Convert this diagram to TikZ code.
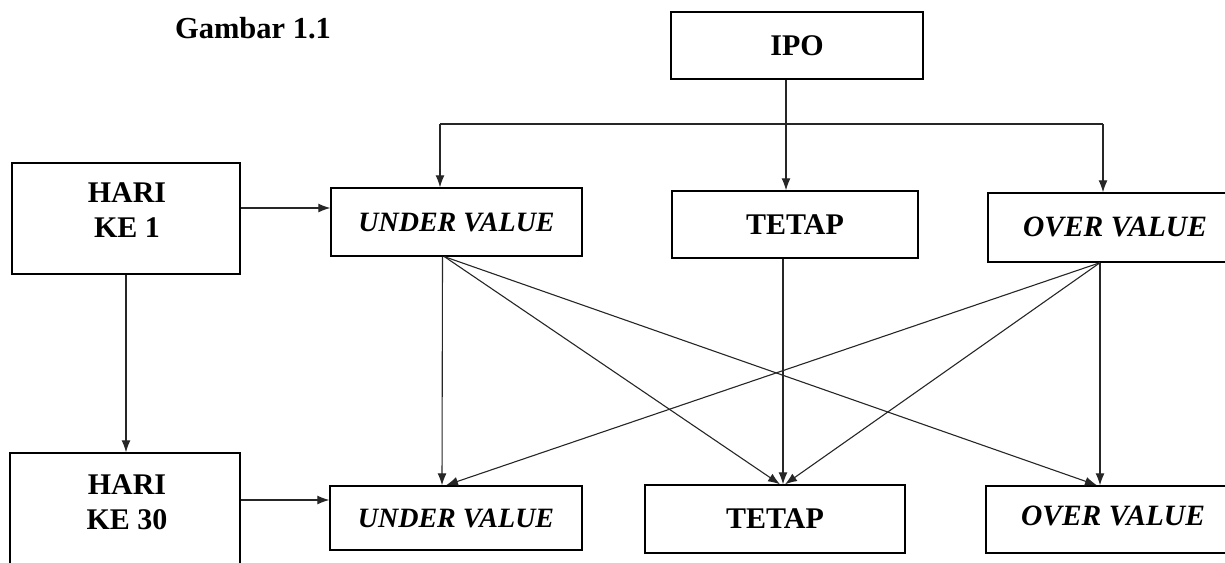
\documentclass[tikz,border=0pt]{standalone}
\usepackage{fontspec}
\setmainfont{Liberation Serif}
\usetikzlibrary{arrows.meta}
\begin{document}
\begin{tikzpicture}[x=1pt,y=-1pt,
  box/.style={draw=black, line width=1.4pt, rectangle, inner sep=0pt,
    font=\fontsize{30}{36}\selectfont\bfseries},
  ibox/.style={box, font=\fontsize{28}{34}\selectfont\bfseries\itshape},
  ovtext/.style={inner sep=0pt, font=\fontsize{29.5}{34}\selectfont\bfseries\itshape},
  lbl/.style={font=\fontsize{30}{35}\selectfont\bfseries, align=center, inner sep=0pt},
  conn/.style={draw=black!85, line width=1.1pt, -{Latex[length=12pt,width=9pt]}},
  plain/.style={draw=black!85, line width=1.1pt}]
\useasboundingbox (0,0) rectangle (1225,562);
\clip (0,0) rectangle (1225,562);

% caption
\node[font=\fontsize{30.5}{34}\selectfont\bfseries, inner sep=0pt] (cap) at (253,28) {Gambar 1.1};

% top level
\node[box, minimum width=252pt, minimum height=67pt] (ipo) at (797,45.5) {IPO};

% day boxes
\node[box, minimum width=228pt, minimum height=111pt] (hk1) at (126,218.5) {};
\node[lbl] (hk1t) at (127,210) {HARI\\KE 1};
\node[box, minimum width=230pt, minimum height=160pt] (hk30) at (125,533) {};
\node[lbl] (hk30t) at (127,502) {HARI\\KE 30};

% day 1 outcomes
\node[ibox, minimum width=251pt, minimum height=68pt] (uv1) at (456.5,222) {UNDER VALUE};
\node[box, minimum width=246pt, minimum height=67pt] (te1) at (795,224.5) {TETAP};
\node[box, minimum width=272pt, minimum height=69pt] (ov1) at (1124,227.5) {};
\node[ovtext] (ov1t) at (1115,227) {OVER VALUE};

% day 30 outcomes
\node[ibox, minimum width=252pt, minimum height=64pt] (uv2) at (456,518) {UNDER VALUE};
\node[box, minimum width=260pt, minimum height=68pt] (te2) at (775,519) {TETAP};
\node[box, minimum width=274pt, minimum height=67pt] (ov2) at (1123,519.5) {};
\node[ovtext] (ov2t) at (1113,516) {OVER VALUE};

% branching from IPO
\coordinate (bl) at (440,124);
\coordinate (br) at (1103,124);
\draw[plain] (bl) -- (br);
\draw[conn] (bl) -- (bl |- uv1.north);
\draw[conn] (br) -- (br |- ov1.north);
\draw[conn] ([xshift=-11pt]ipo.south) -- ([xshift=-9pt]te1.north);

% day links
\draw[conn] (hk1.east |- 0,208) -- (uv1.west |- 0,208);
\draw[conn] (hk1.south) -- (hk1.south |- hk30.north);
\draw[conn] (hk30.east |- 0,500) -- (uv2.west |- 0,500);

% transitions from UNDER VALUE
\draw[conn] ([xshift=-14pt]uv1.south) -- ([xshift=-14pt]uv2.north);
\draw[conn] ([xshift=-12pt]uv1.south) -- ([xshift=5pt]te2.north);
\draw[conn] ([xshift=-12pt]uv1.south) -- ([xshift=-26pt]ov2.north);

% transition from TETAP
\draw[conn] ([xshift=-12pt]te1.south) -- ([xshift=8pt]te2.north);

% transitions from OVER VALUE
\draw[conn] ([xshift=-24pt]ov1.south) -- ([xshift=-10pt]uv2.north);
\draw[conn] ([xshift=-24pt]ov1.south) -- ([xshift=10pt]te2.north);
\draw[conn] ([xshift=-24pt]ov1.south) -- ([xshift=-23pt]ov2.north);
\end{tikzpicture}
\end{document}
